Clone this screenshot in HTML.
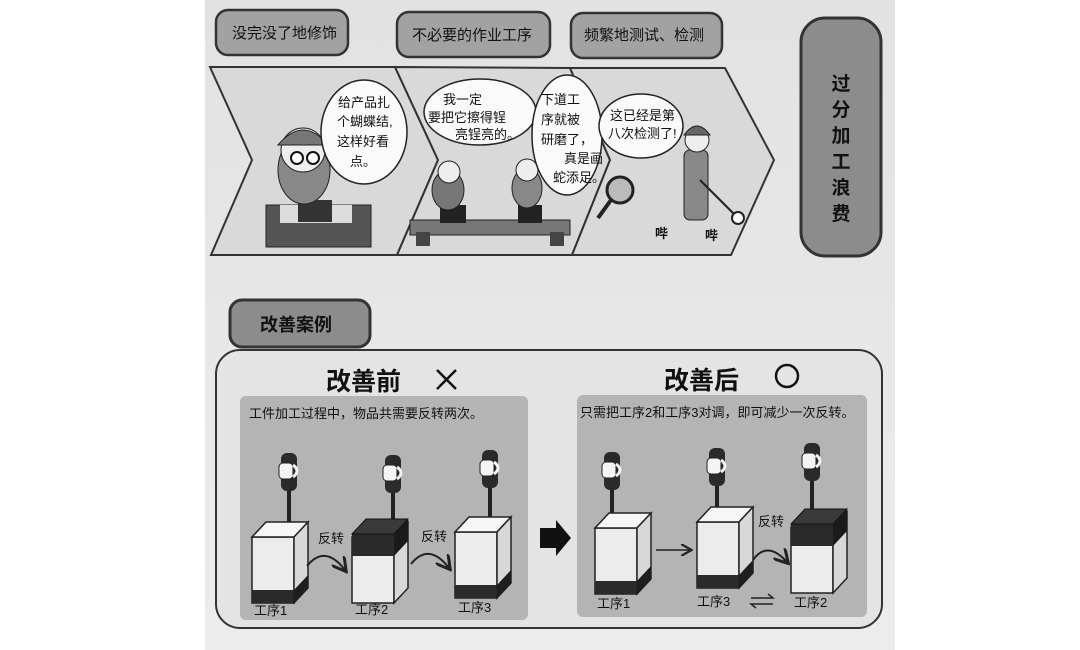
<!DOCTYPE html>
<html><head><meta charset="utf-8"><style>
html,body{margin:0;padding:0;background:#fff;}
svg{display:block;}
text{font-family:"Liberation Sans","Noto Sans CJK SC",sans-serif;}
</style></head><body>
<svg width="1080" height="650" viewBox="0 0 1080 650" xmlns="http://www.w3.org/2000/svg">
<defs>
<linearGradient id="pg" x1="0" y1="0" x2="0" y2="1"><stop offset="0" stop-color="#e2e2e2"/><stop offset="1" stop-color="#ececec"/></linearGradient>
<g id="cubeB">
 <rect x="0" y="0" width="42" height="66" fill="#ececec" stroke="#222" stroke-width="1.5"/>
 <rect x="0" y="53" width="42" height="13" fill="#2a2a2a"/>
 <polygon points="0,0 14,-15 56,-15 42,0" fill="#f6f6f6" stroke="#222" stroke-width="1.5"/>
 <polygon points="42,0 56,-15 56,51 42,66" fill="#d8d8d8" stroke="#222" stroke-width="1.5"/>
 <polygon points="42,53 56,38 56,51 42,66" fill="#1e1e1e"/>
</g>
<g id="cubeT">
 <rect x="0" y="0" width="42" height="66" fill="#ececec" stroke="#222" stroke-width="1.5"/>
 <polygon points="42,0 56,-15 56,51 42,66" fill="#d8d8d8" stroke="#222" stroke-width="1.5"/>
 <rect x="0" y="-3" width="42" height="22" fill="#2a2a2a"/>
 <polygon points="0,-3 14,-18 56,-18 42,-3" fill="#3a3a3a" stroke="#111"/>
 <polygon points="42,-3 56,-18 56,4 42,19" fill="#1a1a1a"/>
</g>
<g id="drv">
 <rect x="-8" y="0" width="16" height="38" rx="6" fill="#2a2a2a"/>
 <rect x="-10" y="10" width="14" height="16" rx="4" fill="#f4f4f4" stroke="#222"/>
 <path d="M4,12 q8,6 0,12" fill="none" stroke="#f4f4f4" stroke-width="3"/>
 <rect x="-2" y="38" width="4" height="32" fill="#222"/>
</g>
<marker id="ah" markerWidth="8" markerHeight="8" refX="6" refY="4" orient="auto"><path d="M0,0 L7,4 L0,8" fill="none" stroke="#222" stroke-width="1.5"/></marker>
</defs>
<rect x="205" y="0" width="690" height="650" fill="url(#pg)"/>

<g stroke="#333" stroke-width="2.5" fill="#a2a2a2">
 <rect x="216" y="10" width="132" height="45" rx="12"/>
 <rect x="397" y="12" width="153" height="45" rx="12"/>
 <rect x="571" y="13" width="151" height="45" rx="12"/>
 <rect x="801" y="18" width="80" height="238" rx="24" fill="#8c8c8c" stroke-width="3"/>
</g>
<g font-size="15" fill="#111">
 <text x="232" y="38">没完没了地修饰</text>
 <text x="412" y="40">不必要的作业工序</text>
 <text x="584" y="40">频繁地测试、检测</text>
</g>
<g font-size="19" font-weight="bold" fill="#111" text-anchor="middle">
 <text x="841" y="90">过</text><text x="841" y="116">分</text><text x="841" y="142">加</text>
 <text x="841" y="168">工</text><text x="841" y="194">浪</text><text x="841" y="220">费</text>
</g>

<g fill="#d9d9d9" stroke="#333" stroke-width="2">
 <polygon points="210,67 395,67 438,160 397,255 211,255 252,160"/>
 <polygon points="395,67 570,68 610,160 572,255 397,255 438,160"/>
 <polygon points="570,68 725,68 774,160 731,255 572,255 610,160"/>
</g>
<rect x="266" y="205" width="105" height="42" fill="#555" stroke="#222"/>
<rect x="280" y="205" width="72" height="18" fill="#ddd"/>
<rect x="298" y="200" width="34" height="22" fill="#333"/>
<ellipse cx="304" cy="170" rx="26" ry="34" fill="#888" stroke="#222"/>
<circle cx="303" cy="150" r="22" fill="#eee" stroke="#222"/>
<path d="M278,145 q25,-30 50,0 z" fill="#777" stroke="#222"/>
<circle cx="297" cy="158" r="6" fill="#fff" stroke="#111" stroke-width="2"/>
<circle cx="313" cy="158" r="6" fill="#fff" stroke="#111" stroke-width="2"/>
<ellipse cx="364" cy="132" rx="43" ry="52" fill="#fafafa" stroke="#222" stroke-width="1.5"/>
<g font-size="13" fill="#111"><text x="338" y="107">给产品扎</text><text x="337" y="126">个蝴蝶结,</text><text x="337" y="146">这样好看</text><text x="350" y="166">点。</text></g>
<rect x="410" y="220" width="160" height="15" fill="#777" stroke="#222"/>
<rect x="416" y="232" width="14" height="14" fill="#444"/><rect x="550" y="232" width="14" height="14" fill="#444"/>
<rect x="440" y="205" width="26" height="18" fill="#222"/><rect x="518" y="205" width="24" height="18" fill="#222"/>
<ellipse cx="448" cy="190" rx="16" ry="20" fill="#777" stroke="#222"/>
<ellipse cx="527" cy="188" rx="15" ry="20" fill="#888" stroke="#222"/>
<circle cx="449" cy="172" r="11" fill="#eee" stroke="#222"/>
<circle cx="527" cy="170" r="11" fill="#eee" stroke="#222"/>
<ellipse cx="480" cy="112" rx="56" ry="33" fill="#fafafa" stroke="#222" stroke-width="1.5"/>
<g font-size="13" fill="#111"><text x="443" y="104">我一定</text><text x="428" y="122">要把它擦得锃</text><text x="455" y="139">亮锃亮的。</text></g>
<ellipse cx="567" cy="135" rx="35" ry="60" fill="#fafafa" stroke="#222" stroke-width="1.5"/>
<g font-size="13" fill="#111"><text x="541" y="104">下道工</text><text x="541" y="124">序就被</text><text x="541" y="144">研磨了，</text><text x="564" y="163">真是画</text><text x="553" y="182">蛇添足。</text></g>
<circle cx="620" cy="190" r="13" fill="#bbb" stroke="#222" stroke-width="3"/>
<line x1="611" y1="200" x2="598" y2="218" stroke="#222" stroke-width="4"/>
<ellipse cx="641" cy="126" rx="42" ry="32" fill="#fafafa" stroke="#222" stroke-width="1.5"/>
<g font-size="13" fill="#111"><text x="610" y="120">这已经是第</text><text x="608" y="138">八次检测了!</text></g>
<rect x="684" y="150" width="24" height="70" rx="6" fill="#888" stroke="#222"/>
<circle cx="697" cy="140" r="12" fill="#eee" stroke="#222"/>
<path d="M684,135 q13,-18 26,0 z" fill="#666" stroke="#222"/>
<line x1="700" y1="180" x2="735" y2="215" stroke="#222" stroke-width="2"/>
<circle cx="738" cy="218" r="6" fill="#fff" stroke="#222" stroke-width="2"/>
<text x="655" y="238" font-size="13" font-weight="bold" fill="#111">哔</text>
<text x="705" y="240" font-size="13" font-weight="bold" fill="#111">哔</text>

<rect x="230" y="300" width="140" height="47" rx="12" fill="#8c8c8c" stroke="#333" stroke-width="3"/>
<text x="260" y="331" font-size="18" font-weight="bold" fill="#111">改善案例</text>
<rect x="216" y="350" width="666" height="278" rx="24" fill="#e4e4e4" stroke="#333" stroke-width="2"/>
<text x="326" y="390" font-size="25" font-weight="bold" fill="#111">改善前</text>
<path d="M437,370 l19,19 M456,370 l-19,19" stroke="#111" stroke-width="2.5"/>
<text x="664" y="389" font-size="25" font-weight="bold" fill="#111">改善后</text>
<circle cx="787" cy="376" r="11" fill="none" stroke="#111" stroke-width="2.5"/>

<rect x="240" y="396" width="288" height="224" rx="6" fill="#b4b4b4"/>
<rect x="577" y="395" width="290" height="222" rx="6" fill="#b4b4b4"/>
<text x="249" y="418" font-size="13" fill="#111">工件加工过程中，物品共需要反转两次。</text>
<text x="580" y="417" font-size="13" fill="#111">只需把工序2和工序3对调，即可减少一次反转。</text>

<use href="#drv" x="289" y="453"/>
<use href="#cubeB" x="252" y="537"/>
<use href="#drv" x="393" y="455"/>
<use href="#cubeT" x="352" y="537"/>
<use href="#drv" x="490" y="450"/>
<use href="#cubeB" x="455" y="532"/>
<path d="M307,566 q18,-22 38,4" fill="none" stroke="#222" stroke-width="2" marker-end="url(#ah)"/>
<path d="M411,564 q18,-22 38,4" fill="none" stroke="#222" stroke-width="2" marker-end="url(#ah)"/>
<g font-size="13" fill="#111"><text x="318" y="543">反转</text><text x="421" y="541">反转</text>
<text x="254" y="615">工序1</text><text x="355" y="614">工序2</text><text x="458" y="612">工序3</text></g>

<polygon points="540,528 556,528 556,520 571,538 556,556 556,548 540,548" fill="#111"/>

<use href="#drv" x="612" y="452"/>
<use href="#cubeB" x="595" y="528"/>
<use href="#drv" x="717" y="448"/>
<use href="#cubeB" x="697" y="522"/>
<use href="#drv" x="812" y="443"/>
<use href="#cubeT" x="791" y="527"/>
<line x1="656" y1="550" x2="690" y2="550" stroke="#222" stroke-width="1.5" marker-end="url(#ah)"/>
<path d="M753,560 q14,-20 34,2" fill="none" stroke="#222" stroke-width="2" marker-end="url(#ah)"/>
<g font-size="13" fill="#111"><text x="758" y="526">反转</text>
<text x="597" y="608">工序1</text><text x="697" y="606">工序3</text><text x="794" y="607">工序2</text></g>
<path d="M751,598 h22 l-5,-4 M773,604 h-22 l5,4" fill="none" stroke="#222" stroke-width="1.5"/>
</svg>
</body></html>
